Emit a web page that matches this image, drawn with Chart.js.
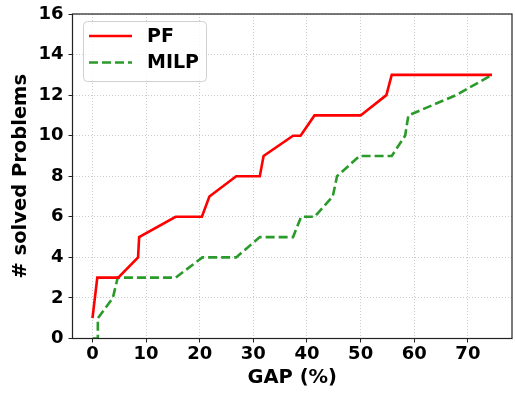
<!DOCTYPE html>
<html lang="en">
  <head>
    <meta charset="UTF-8" />
    <title>Solved problems vs GAP</title>
    <script src="https://cdn.jsdelivr.net/npm/chart.js@4"></script>
    <style>
      body {
        margin: 0;
        background: #fff;
      }
      #wrap {
        width: 515px;
        height: 395px;
      }
    </style>
  </head>
  <body>
    <div id="wrap"><canvas id="gapChart" width="515" height="395"></canvas></div>

    <script>
      // values
      var gapPF = [0, 0.9, 4.8, 8.5, 8.7, 15.5, 20.4, 21.8, 26.8, 31.2, 31.9, 37.4, 38.8, 41.4, 50, 54.8, 55.8, 74.5];
      var solvedPF = [1, 3, 3, 4, 5, 6, 6, 7, 8, 8, 9, 10, 10, 11, 11, 12, 13, 13];
      var gapMILP = [0, 1, 1, 3.8, 4.7, 15.5, 20.5, 26.8, 31.2, 37.4, 38.9, 41.4, 44.8, 45.6, 49.8, 55.8, 58.3, 58.9, 67.8, 74.5];
      var solvedMILP = [0, 0, 1, 2, 3, 3, 4, 4, 5, 5, 6, 6, 7, 8, 9, 9, 10, 11, 12, 13];
      var xTicks = [0, 10, 20, 30, 40, 50, 60, 70];
      var yTicks = [0, 2, 4, 6, 8, 10, 12, 14, 16];

      function toPoints(xs, ys) {
        return xs.map(function (x, i) {
          return { x: x, y: ys[i] };
        });
      }

      var FONT = "'DejaVu Sans', sans-serif";

      // matplotlib-like frame + legend inside the axes
      var framePlugin = {
        id: "frame",
        afterDraw: function (chart) {
          var ctx = chart.ctx;
          var a = chart.chartArea;
          ctx.save();
          ctx.strokeStyle = "#222";
          ctx.lineWidth = 1.2;
          ctx.strokeRect(a.left, a.top, a.right - a.left, a.bottom - a.top);

          // legend box
          var bx = 83.5, by = 21.5, bw = 123, bh = 60, r = 4;
          ctx.beginPath();
          ctx.moveTo(bx + r, by);
          ctx.arcTo(bx + bw, by, bx + bw, by + bh, r);
          ctx.arcTo(bx + bw, by + bh, bx, by + bh, r);
          ctx.arcTo(bx, by + bh, bx, by, r);
          ctx.arcTo(bx, by, bx + bw, by, r);
          ctx.closePath();
          ctx.fillStyle = "rgba(255,255,255,0.8)";
          ctx.fill();
          ctx.strokeStyle = "#d0d0d0";
          ctx.lineWidth = 1;
          ctx.stroke();

          chart.data.datasets.forEach(function (ds, i) {
            var y = 36 + i * 26.5;
            ctx.beginPath();
            ctx.setLineDash(ds.borderDash || []);
            ctx.strokeStyle = ds.borderColor;
            ctx.lineWidth = ds.borderWidth;
            ctx.moveTo(89, y);
            ctx.lineTo(132, y);
            ctx.stroke();
            ctx.setLineDash([]);
            ctx.fillStyle = "#000";
            ctx.font = "bold 19px " + FONT;
            ctx.textBaseline = "middle";
            ctx.textAlign = "left";
            ctx.fillText(ds.label, 147, y + 1);
          });
          ctx.restore();
        },
      };

      new Chart(document.getElementById("gapChart").getContext("2d"), {
        type: "line",
        data: {
          datasets: [
            {
              label: "PF",
              data: toPoints(gapPF, solvedPF),
              borderColor: "#ff0000",
              borderWidth: 2.6,
              pointRadius: 0,
              tension: 0,
              fill: false,
            },
            {
              label: "MILP",
              data: toPoints(gapMILP, solvedMILP),
              borderColor: "#2a9a2a",
              borderWidth: 2.6,
              borderDash: [9, 4],
              pointRadius: 0,
              tension: 0,
              fill: false,
            },
          ],
        },
        options: {
          responsive: false,
          animation: false,
          devicePixelRatio: 1,
          layout: { padding: { left: 0, top: 11, right: 3, bottom: 0 } },
          plugins: {
            legend: { display: false },
            tooltip: { enabled: false },
          },
          scales: {
            x: {
              type: "linear",
              min: -3.725,
              max: 78.225,
              afterBuildTicks: function (scale) {
                scale.ticks = xTicks.map(function (v) {
                  return { value: v };
                });
              },
              afterFit: function (scale) {
                scale.height = 56.5;
              },
              grid: {
                color: "#bdbdbd",
                lineWidth: 0.8,
                tickLength: 4,
                tickColor: "#222",
                tickWidth: 1,
              },
              border: { display: false, dash: [1, 2] },
              ticks: {
                color: "#000",
                padding: 3,
                font: { family: FONT, size: 18, weight: "bold", lineHeight: 1 },
              },
              title: {
                display: true,
                text: "GAP (%)",
                color: "#000",
                padding: { top: 0, bottom: 5 },
                font: { family: FONT, size: 19.5, weight: "bold" },
              },
            },
            y: {
              min: 0,
              max: 16,
              afterBuildTicks: function (scale) {
                scale.ticks = yTicks.map(function (v) {
                  return { value: v };
                });
              },
              afterFit: function (scale) {
                scale.width = 72.5;
              },
              grid: {
                color: "#bdbdbd",
                lineWidth: 0.8,
                tickLength: 4,
                tickColor: "#222",
                tickWidth: 1,
              },
              border: { display: false, dash: [1, 2] },
              ticks: {
                color: "#000",
                padding: 5,
                font: { family: FONT, size: 18, weight: "bold", lineHeight: 1 },
              },
              title: {
                display: true,
                text: "# solved Problems",
                color: "#000",
                padding: { top: 9, bottom: 0 },
                font: { family: FONT, size: 19.5, weight: "bold" },
              },
            },
          },
        },
        plugins: [framePlugin],
      });
    </script>
  </body>
</html>
